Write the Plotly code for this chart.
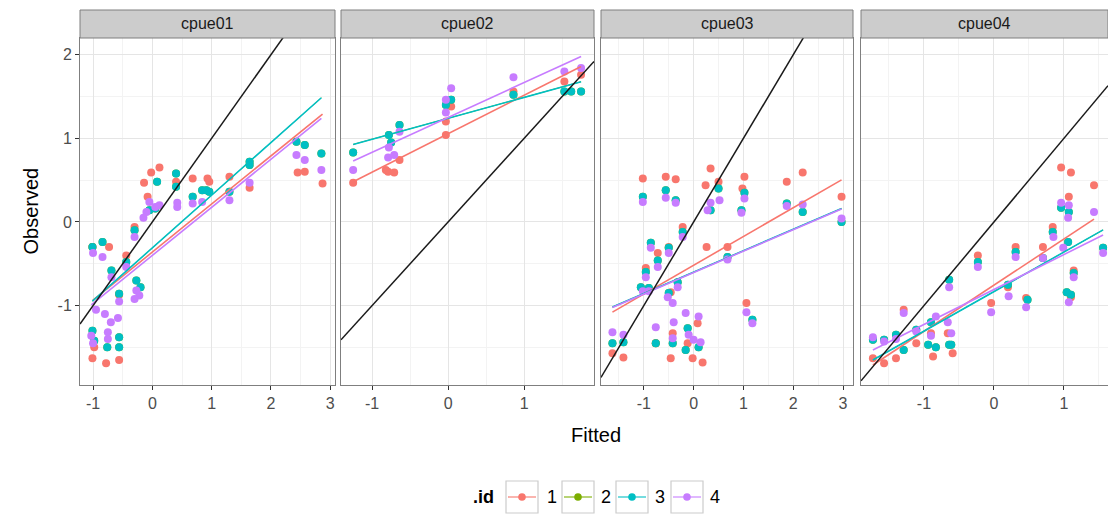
import plotly.graph_objects as go

# ---------------- data ----------------
PANELS = ["cpue01", "cpue02", "cpue03", "cpue04"]
IDS = ["1", "2", "3", "4"]
COLORS = ["#F8766D", "#7CAE00", "#00BFC4", "#C77CFF"]

# panel cpue01
p1_x_1 = [-1.01, -0.73, -0.44, -0.56, -0.98, -1.01, -0.78, -0.56, -0.30, -0.14, -0.02, 0.12, -0.08, 0.40, 0.68, 0.93, 0.96, 1.30, 1.64, 2.45, 2.57, 2.87]
p1_y_1 = [-0.30, -0.30, -0.40, -0.87, -1.50, -1.63, -1.69, -1.65, -0.06, 0.47, 0.59, 0.65, 0.30, 0.48, 0.52, 0.52, 0.48, 0.54, 0.41, 0.59, 0.60, 0.46]
p1_x_3 = [-1.01, -0.84, -0.69, -0.44, -0.30, -0.27, -0.56, -1.01, -0.98, -0.76, -0.56, -0.56, 0.08, 0.40, 0.40, 0.68, 0.84, 0.91, 0.96, 1.30, 1.64, 1.64, 2.43, 2.57, 2.85, -0.05, 0.05, -0.20]
p1_y_3 = [-0.30, -0.24, -0.58, -0.48, -0.10, -0.70, -0.86, -1.30, -1.42, -1.50, -1.50, -1.38, 0.48, 0.58, 0.42, 0.30, 0.38, 0.38, 0.36, 0.36, 0.72, 0.68, 0.96, 0.92, 0.82, 0.14, 0.16, -0.78]
p1_x_4 = [-1.00, -0.84, -0.69, -0.44, -0.30, -0.27, -0.22, -0.30, -0.56, -0.95, -0.80, -0.70, -0.75, -0.58, -1.03, -1.00, -0.75, -0.10, -0.05, 0.05, -0.15, 0.12, 0.42, 0.42, 0.68, 0.84, 1.30, 1.64, 2.43, 2.57, 2.85]
p1_y_4 = [-0.37, -0.42, -0.66, -0.54, -0.18, -0.82, -0.88, -0.92, -0.95, -1.05, -1.10, -1.20, -1.32, -1.15, -1.36, -1.45, -1.40, 0.12, 0.24, 0.18, 0.05, 0.20, 0.23, 0.18, 0.22, 0.24, 0.26, 0.47, 0.80, 0.74, 0.62]

# panel cpue02
p2_x_1 = [-1.25, -0.79, -0.71, -0.82, -0.64, -0.03, -0.03, 0.04, 0.86, 1.53, 1.75]
p2_y_1 = [0.47, 0.60, 0.59, 0.62, 0.74, 1.04, 1.20, 1.38, 1.56, 1.68, 1.76]
p2_x_3 = [-1.25, -0.78, -0.75, -0.64, -0.03, 0.04, 0.86, 1.53, 1.62, 1.75]
p2_y_3 = [0.83, 1.04, 0.95, 1.16, 1.40, 1.46, 1.52, 1.56, 1.56, 1.56]
p2_x_4 = [-1.25, -0.78, -0.79, -0.71, -0.64, -0.03, 0.04, -0.03, 0.86, 1.53, 1.75]
p2_y_4 = [0.62, 0.89, 0.77, 0.80, 1.08, 1.46, 1.60, 1.31, 1.73, 1.80, 1.84]

# panel cpue03
p3_x_1 = [-1.02, -0.56, -0.36, 0.34, 0.24, 0.50, -0.22, -0.96, -0.72, -0.50, -0.46, 0.08, -1.63, -1.41, -0.46, -0.02, 0.18, -0.42, -0.12, -0.76, 0.26, 1.02, 0.98, 1.87, 2.19, 2.97, 0.68, 1.06]
p3_y_1 = [0.52, 0.54, 0.51, 0.64, 0.44, 0.48, -0.06, -0.55, -0.37, -0.30, -0.84, -1.21, -1.57, -1.62, -1.63, -1.63, -1.68, -1.33, -1.45, -1.45, -0.30, 0.54, 0.40, 0.48, 0.59, 0.30, -0.30, -0.97]
p3_x_3 = [-1.02, -0.56, -0.36, 0.34, 0.50, -0.22, -0.86, -0.72, -0.50, -0.96, -1.06, -0.90, -0.32, -0.50, -1.63, -1.41, -0.76, -0.42, -0.16, 0.10, -0.12, 1.02, 0.96, 1.87, 2.19, 2.97, 0.68, 1.18]
p3_y_3 = [0.30, 0.38, 0.26, 0.14, 0.40, -0.12, -0.25, -0.46, -0.31, -0.60, -0.78, -0.79, -0.72, -0.85, -1.45, -1.44, -1.45, -1.45, -1.53, -1.50, -1.27, 0.35, 0.14, 0.22, 0.12, 0.00, -0.42, -1.17]
p3_x_4 = [-1.02, -0.56, -0.36, 0.34, 0.28, 0.52, -0.22, -0.86, -0.72, -0.50, -0.96, -1.02, -0.90, -0.32, -0.52, -0.42, -0.16, -0.40, -0.76, -1.63, -1.41, -0.42, -0.10, 0.00, 0.14, 0.10, 1.02, 0.96, 1.87, 2.19, 2.97, 0.68, 1.06, 1.18]
p3_y_4 = [0.24, 0.29, 0.23, 0.23, 0.14, 0.26, -0.18, -0.31, -0.54, -0.37, -0.66, -0.83, -0.83, -0.78, -0.90, -0.97, -1.09, -1.20, -1.26, -1.32, -1.35, -1.39, -1.35, -1.41, -1.44, -1.13, 0.28, 0.11, 0.19, 0.21, 0.04, -0.45, -1.08, -1.21]

# panel cpue04
p4_x_1 = [-1.73, -1.57, -1.40, -1.29, -1.11, -0.87, -0.90, -0.66, -0.59, -0.23, -0.04, 0.31, 0.46, 0.70, 0.84, 0.96, 1.10, 1.07, 1.43, 1.14, 1.10, 0.20]
p4_y_1 = [-1.63, -1.69, -1.63, -1.05, -1.45, -1.61, -1.33, -1.33, -1.57, -0.40, -0.97, -0.30, -0.91, -0.30, -0.06, 0.65, 0.59, 0.30, 0.44, -0.58, -0.90, -0.78]
p4_x_3 = [-1.73, -1.57, -1.40, -1.29, -1.11, -0.94, -0.83, -0.64, -0.61, -0.90, -0.64, -0.23, 0.20, 0.31, 0.70, 0.84, 0.96, 1.07, 1.06, 1.14, 1.04, 1.10, 1.56, 0.48]
p4_y_3 = [-1.41, -1.41, -1.35, -1.53, -1.29, -1.47, -1.50, -1.47, -1.47, -1.20, -0.69, -0.48, -0.75, -0.36, -0.43, -0.12, 0.17, 0.12, -0.24, -0.61, -0.84, -0.87, -0.31, -0.93]
p4_x_4 = [-1.73, -1.57, -1.40, -1.29, -1.11, -0.83, -0.90, -0.66, -0.61, -0.64, -0.23, -0.04, 0.21, 0.31, 0.46, 0.70, 0.85, 0.96, 1.07, 1.06, 0.99, 1.14, 1.07, 1.43, 1.56]
p4_y_4 = [-1.38, -1.43, -1.40, -1.09, -1.31, -1.13, -1.36, -1.20, -1.33, -0.78, -0.54, -1.08, -0.89, -0.42, -1.02, -0.43, -0.18, 0.23, 0.20, 0.05, -0.31, -0.66, -0.96, 0.12, -0.37]

# series 2 coincides with series 3 (hidden beneath it)
POINTS = {
    "cpue01": {"1": (p1_x_1, p1_y_1), "2": (p1_x_3, p1_y_3), "3": (p1_x_3, p1_y_3), "4": (p1_x_4, p1_y_4)},
    "cpue02": {"1": (p2_x_1, p2_y_1), "2": (p2_x_3, p2_y_3), "3": (p2_x_3, p2_y_3), "4": (p2_x_4, p2_y_4)},
    "cpue03": {"1": (p3_x_1, p3_y_1), "2": (p3_x_3, p3_y_3), "3": (p3_x_3, p3_y_3), "4": (p3_x_4, p3_y_4)},
    "cpue04": {"1": (p4_x_1, p4_y_1), "2": (p4_x_3, p4_y_3), "3": (p4_x_3, p4_y_3), "4": (p4_x_4, p4_y_4)},
}

# linear fits: intercept, slope per series (1,2,3,4)
fit_intercept = {
    "cpue01": [-0.36, -0.31, -0.31, -0.40],
    "cpue02": [1.055, 1.24, 1.24, 1.25],
    "cpue03": [-0.518, -0.60, -0.60, -0.605],
    "cpue04": [-0.756, -0.833, -0.833, -0.808],
}
fit_slope = {
    "cpue01": [0.575, 0.63, 0.63, 0.575],
    "cpue02": [0.46, 0.25, 0.25, 0.417],
    "cpue03": [0.344, 0.256, 0.256, 0.256],
    "cpue04": [0.552, 0.473, 0.473, 0.418],
}

# reference 1:1 line
REF_INTERCEPT = 0.0
REF_SLOPE = 1.0

x_ranges = [[-1.22, 3.08], [-1.41, 1.92], [-1.86, 3.2], [-1.9, 1.63]]
x_tickvals = [[-1, 0, 1, 2, 3], [-1, 0, 1], [-1, 0, 1, 2, 3], [-1, 0, 1]]
y_range = [-1.95, 2.2]
y_tickvals = [-1, 0, 1, 2]

def lab(v):
    return str(v)  # plain hyphen-minus as in the reference

# ---------------- layout geometry ----------------
W, H = 1108, 516
panel_px = [(80, 335), (341, 594), (601, 853), (861, 1108)]
plot_top, plot_bot = 38, 385
strip_top = 10

def px(v):
    return v / W

def py(v):
    return 1 - v / H

fig = go.Figure()

for pi, pname in enumerate(PANELS):
    xa = "x" if pi == 0 else f"x{pi+1}"
    ya = "y" if pi == 0 else f"y{pi+1}"
    for si, sid in enumerate(IDS):
        xs, ys = POINTS[pname][sid]
        fig.add_trace(go.Scatter(
            x=xs, y=ys, mode="markers", xaxis=xa, yaxis=ya, name=sid,
            marker=dict(color=COLORS[si], size=8, line=dict(width=0)),
            showlegend=False, hoverinfo="skip"))
    for si, sid in enumerate(IDS):
        xs, ys = POINTS[pname][sid]
        x0, x1 = min(xs), max(xs)
        b0 = fit_intercept[pname][si]
        b1 = fit_slope[pname][si]
        fig.add_trace(go.Scatter(
            x=[x0, x1], y=[b0 + b1 * x0, b0 + b1 * x1], mode="lines", name=sid,
            xaxis=xa, yaxis=ya,
            line=dict(color=COLORS[si], width=1.0 if sid == "2" else 1.6),
            showlegend=False, hoverinfo="skip"))
    r0, r1 = x_ranges[pi]
    fig.add_trace(go.Scatter(
        x=[r0, r1], y=[REF_INTERCEPT + REF_SLOPE * r0, REF_INTERCEPT + REF_SLOPE * r1],
        mode="lines", xaxis=xa, yaxis=ya, line=dict(color="#1a1a1a", width=1.5),
        showlegend=False, hoverinfo="skip"))

shapes = []
annotations = []
layout = dict(
    width=W, height=H, margin=dict(l=0, r=0, t=0, b=0),
    paper_bgcolor="white", plot_bgcolor="white", showlegend=False,
    font=dict(family="Liberation Sans, Arial, sans-serif", color="#000000"),
)

for pi in range(4):
    l, r = panel_px[pi]
    xkey = "xaxis" if pi == 0 else f"xaxis{pi+1}"
    ykey = "yaxis" if pi == 0 else f"yaxis{pi+1}"
    yanchor = "y" if pi == 0 else f"y{pi+1}"
    xanchor = "x" if pi == 0 else f"x{pi+1}"
    layout[xkey] = dict(
        domain=[px(l), px(r)], range=x_ranges[pi], anchor=yanchor,
        tickmode="array", tickvals=x_tickvals[pi], ticktext=[lab(v) for v in x_tickvals[pi]],
        showgrid=True, gridcolor="#E5E5E5", gridwidth=1,
        minor=dict(tickmode="linear", tick0=0.5, dtick=1, showgrid=True, gridcolor="#F3F3F3", gridwidth=1),
        zeroline=False, showline=True, linecolor="#7F7F7F", linewidth=1, mirror=True,
        ticks="outside", ticklen=4, tickcolor="#333333", tickwidth=1,
        tickfont=dict(size=16, color="#4D4D4D"))
    layout[ykey] = dict(
        domain=[py(plot_bot), py(plot_top)], range=y_range, anchor=xanchor,
        tickmode="array", tickvals=y_tickvals, ticktext=[lab(v) for v in y_tickvals],
        showgrid=True, gridcolor="#E5E5E5", gridwidth=1,
        minor=dict(tickmode="linear", tick0=0.5, dtick=1, showgrid=True, gridcolor="#F3F3F3", gridwidth=1),
        zeroline=False, showline=True, linecolor="#7F7F7F", linewidth=1, mirror=True,
        ticks="outside" if pi == 0 else "", ticklen=4, tickcolor="#333333", tickwidth=1,
        showticklabels=(pi == 0), tickfont=dict(size=16, color="#4D4D4D"))
    shapes.append(dict(
        type="rect", xref="paper", yref="paper", x0=px(l), x1=px(r),
        y0=py(plot_top), y1=py(strip_top), fillcolor="#CCCCCC",
        line=dict(color="#7F7F7F", width=1), layer="above"))
    annotations.append(dict(
        text=PANELS[pi], xref="paper", yref="paper", x=px((l + r) / 2),
        y=py((plot_top + strip_top) / 2), showarrow=False,
        font=dict(size=16, color="#1A1A1A"), xanchor="center", yanchor="middle"))

annotations.append(dict(
    text="Observed", xref="paper", yref="paper", x=px(30), y=py((plot_top + plot_bot) / 2),
    textangle=-90, showarrow=False, font=dict(size=20), xanchor="center", yanchor="middle"))
annotations.append(dict(
    text="Fitted", xref="paper", yref="paper", x=px(596), y=py(435),
    showarrow=False, font=dict(size=20), xanchor="center", yanchor="middle"))

# ---------------- legend (drawn like ggplot's keys) ----------------
leg_y = 497
key_centers = [522, 578, 632, 687]
label_left = [545, 599, 653, 708]
annotations.append(dict(
    text="<b>.id</b>", xref="paper", yref="paper", x=px(496), y=py(leg_y),
    showarrow=False, font=dict(size=18), xanchor="right", yanchor="middle"))
for si, sid in enumerate(IDS):
    cx = key_centers[si]
    shapes.append(dict(type="rect", xref="paper", yref="paper",
                       x0=px(cx - 16), x1=px(cx + 16), y0=py(leg_y + 16), y1=py(leg_y - 16),
                       fillcolor="white", line=dict(color="#CCCCCC", width=1.2)))
    shapes.append(dict(type="line", xref="paper", yref="paper",
                       x0=px(cx - 14), x1=px(cx + 14), y0=py(leg_y), y1=py(leg_y),
                       line=dict(color=COLORS[si], width=1.8), opacity=0.6))
    shapes.append(dict(type="circle", xref="paper", yref="paper",
                       x0=px(cx - 3.8), x1=px(cx + 3.8), y0=py(leg_y + 3.8), y1=py(leg_y - 3.8),
                       fillcolor=COLORS[si], line=dict(width=0)))
    annotations.append(dict(
        text=sid, xref="paper", yref="paper", x=px(label_left[si]), y=py(leg_y),
        showarrow=False, font=dict(size=18), xanchor="left", yanchor="middle"))

layout["shapes"] = shapes
layout["annotations"] = annotations
fig.update_layout(**layout)
fig.write_html("out.html")
